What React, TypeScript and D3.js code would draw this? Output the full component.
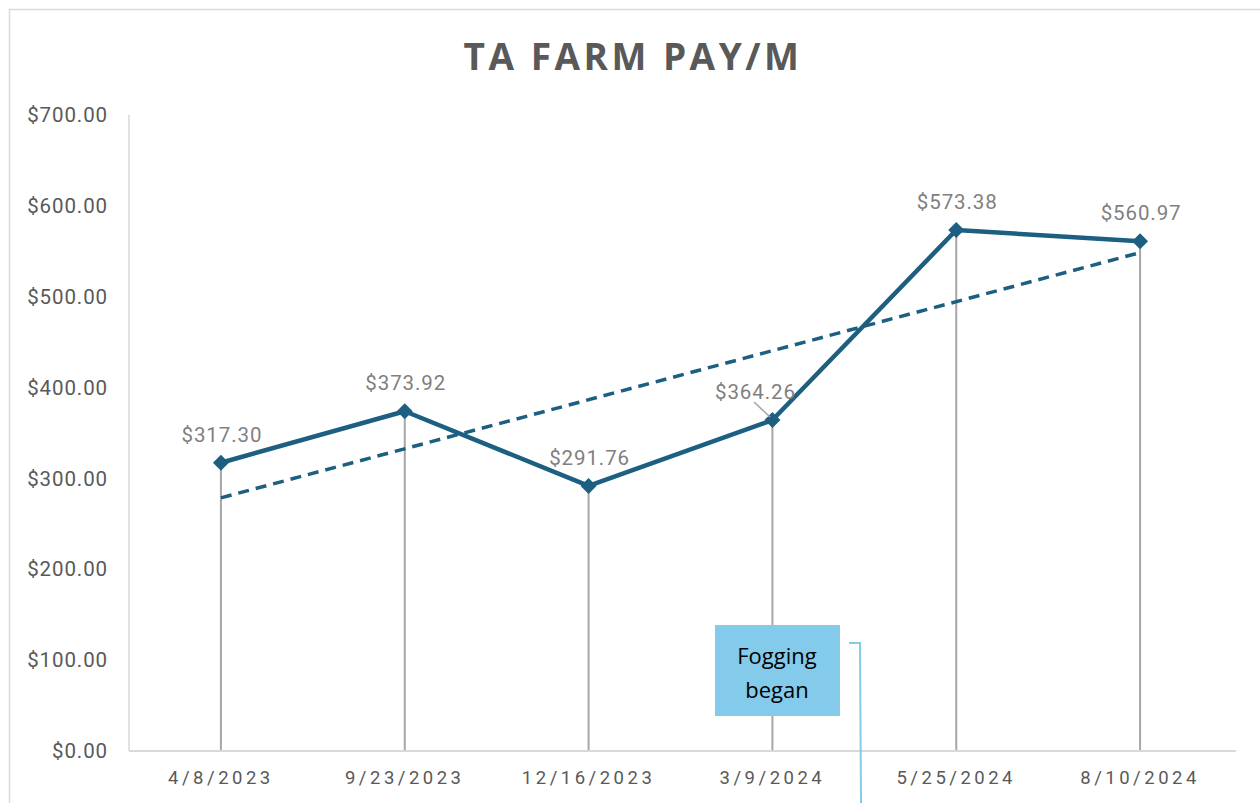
import React from "react";
import * as d3 from "d3";

const categories = ["4/8/2023", "9/23/2023", "12/16/2023", "3/9/2024", "5/25/2024", "8/10/2024"];
const values = [317.3, 373.92, 291.76, 364.26, 573.38, 560.97];
const yTicks = [0, 100, 200, 300, 400, 500, 600, 700];
const title = "TA FARM PAY/M";
const noteLines = ["Fogging", "began"];

export default function App() {
  const W = 1260, H = 803;
  const left = 129, right = 1232, top = 115, bottom = 751;
  const x = d3.scalePoint<string>().domain(categories).range([left, right]).padding(0.5);
  const y = d3.scaleLinear().domain([0, 700]).range([bottom, top]);
  const fmt = (v: number) => "$" + d3.format(",.2f")(v);

  // linear trendline (least squares on index 1..n)
  const n = values.length;
  const xs = values.map((_, i) => i + 1);
  const mx = d3.mean(xs)!;
  const my = d3.mean(values)!;
  const slope = d3.sum(xs.map((xi, i) => (xi - mx) * (values[i] - my))) / d3.sum(xs.map((xi) => (xi - mx) ** 2));
  const b = my - slope * mx;
  const t0 = b + slope * 1, t1 = b + slope * n;

  const line = d3.line<number>().x((_, i) => x(categories[i])!).y((d) => y(d));
  const color = "#1C5F80";
  const gray = "#595959";

  return (
    <svg width={W} height={H} style={{ position: "absolute", left: 0, top: 0, background: "#fff" }}
      fontFamily="Roboto, 'Liberation Sans', Arial, sans-serif">
      <rect x={9.5} y={9.5} width={W + 10} height={H + 10} fill="#fff" stroke="#d9d9d9" strokeWidth={1.5} />
      <text x={633} y={70} textAnchor="middle" fontFamily="'Open Sans', sans-serif" fontWeight={700}
        fontSize={37} letterSpacing={3.5} fill={gray}>{title}</text>

      {/* y axis line */}
      <line x1={left} x2={left} y1={top} y2={bottom} stroke="#d9d9d9" strokeWidth={1.5} />
      {yTicks.map((t) => (
        <text key={t} x={108} y={y(t)} dy="0.35em" textAnchor="end" fontSize={20.5} letterSpacing={0.9} fill={gray}>{fmt(t)}</text>
      ))}

      {/* drop lines */}
      {values.map((v, i) => (
        <line key={i} x1={x(categories[i])} x2={x(categories[i])} y1={y(v)} y2={bottom} stroke="#a6a6a6" strokeWidth={2} />
      ))}

      {/* x axis */}
      <line x1={left} x2={1236} y1={bottom} y2={bottom} stroke="#d9d9d9" strokeWidth={2} />
      {categories.map((c) => (
        <text key={c} x={x(c)} y={778} dy="0.35em" textAnchor="middle" fontSize={18.5} letterSpacing={3.5} fill={gray}>{c}</text>
      ))}

      {/* trendline */}
      <line x1={x(categories[0])} y1={y(t0)} x2={x(categories[n - 1])} y2={y(t1)} stroke={color}
        strokeWidth={3.5} strokeDasharray="11 7" />

      {/* series */}
      <path d={line(values)!} fill="none" stroke={color} strokeWidth={4.5} strokeLinejoin="round" />
      {values.map((v, i) => {
        const cx = x(categories[i])!, cy = y(v);
        const s = 8;
        return <path key={i} d={`M${cx},${cy - s}L${cx + s},${cy}L${cx},${cy + s}L${cx - s},${cy}Z`} fill={color} />;
      })}

      {/* data labels */}
      {values.map((v, i) => {
        const cx = x(categories[i])!, cy = y(v);
        const shifted = i === 3;
        return (
          <g key={i}>
            {shifted && <line x1={754} y1={402} x2={770} y2={417} stroke="#a6a6a6" strokeWidth={1.5} />}
            <text x={shifted ? cx - 17 : cx + 1} y={cy - 28} dy="0.35em" textAnchor="middle" fontSize={20.5} letterSpacing={0.9} fill="#7f7f7f">{fmt(v)}</text>
          </g>
        );
      })}

      {/* annotation */}
      <rect x={715} y={625} width={125} height={91} fill="#83CAEB" />
      {noteLines.map((t, i) => (
        <text key={t} x={777} y={656 + i * 34} dy="0.35em" textAnchor="middle" fontFamily="'Open Sans', sans-serif" fontSize={22} fill="#000">{t}</text>
      ))}
      <polyline points="849,643 860,643 861,803" fill="none" stroke="#83CAEB" strokeWidth={2} />
    </svg>
  );
}
